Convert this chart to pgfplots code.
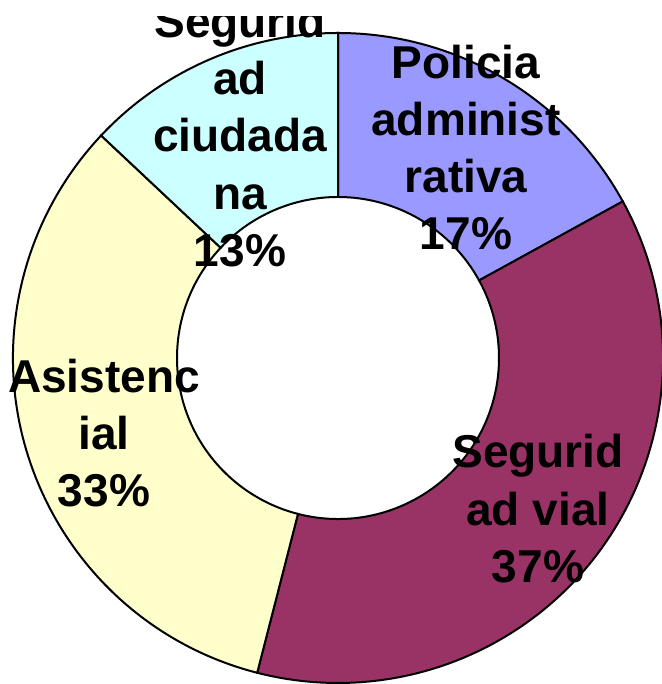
\documentclass[border=0pt]{standalone}
\usepackage{pgfplots}
\usepackage{pgfplotstable}
\pgfplotsset{compat=1.18}
\usepackage{fontspec}
\setmainfont{Liberation Sans}

\definecolor{polic}{HTML}{9999FF}
\definecolor{vial}{HTML}{993366}
\definecolor{asist}{HTML}{FFFFCC}
\definecolor{ciud}{HTML}{CCFFFF}

% shares in percent, clockwise from 12 o'clock
\pgfplotstableread{
value color
17 polic
37 vial
33 asist
13 ciud
}\piedata

\begin{document}
\begin{tikzpicture}[lbl/.style={anchor=base, inner sep=0pt,
    font=\bfseries\fontsize{13.1pt}{15pt}\selectfont}]
\useasboundingbox (0,0) rectangle (6.62cm,6.84cm);
% the chart area cuts the top label off
\clip (0,0) rectangle (6.62cm,6.67cm);
\begin{axis}[
    at={(0,0)}, anchor=south west,
    scale only axis,
    width=6.62cm, height=6.84cm,
    xmin=0, xmax=662, ymin=0, ymax=684,
    axis lines=none,
    clip=false,
]
\pgfplotstablegetrowsof{\piedata}
\pgfmathtruncatemacro\lastrow{\pgfplotsretval-1}
\def\startangle{90}
\pgfplotsforeachungrouped \i in {0,...,\lastrow}{
    \pgfplotstablegetelem{\i}{value}\of\piedata \let\val\pgfplotsretval
    \pgfplotstablegetelem{\i}{color}\of\piedata \let\col\pgfplotsretval
    \pgfmathsetmacro\endangle{\startangle-3.6*\val}
    \edef\temp{\noexpand\filldraw[fill=\col, draw=black, line width=0.02cm]
        (axis cs:{338+325*cos(\startangle)},{326+325*sin(\startangle)})
        arc[start angle=\startangle, end angle=\endangle, radius=3.25cm]
        -- (axis cs:{338+161*cos(\endangle)},{326+161*sin(\endangle)})
        arc[start angle=\endangle, end angle=\startangle, radius=1.61cm]
        -- cycle;}
    \temp
    \let\startangle\endangle
}

% Policia administrativa
\node[lbl] at (axis cs:466,605) {Policia};
\node[lbl] at (axis cs:466,548) {administ};
\node[lbl] at (axis cs:466,491) {rativa};
\node[lbl] at (axis cs:466,434) {17\%};
% Seguridad vial
\node[lbl] at (axis cs:538,216) {Segurid};
\node[lbl] at (axis cs:538,158) {ad vial};
\node[lbl] at (axis cs:538,101) {37\%};
% Asistencial
\node[lbl] at (axis cs:104,291) {Asistenc};
\node[lbl] at (axis cs:104,234) {ial};
\node[lbl] at (axis cs:104,177) {33\%};
% Seguridad ciudadana
\node[lbl] at (axis cs:240,646) {Segurid};
\node[lbl] at (axis cs:240,589) {ad};
\node[lbl] at (axis cs:240,532) {ciudada};
\node[lbl] at (axis cs:240,474) {na};
\node[lbl] at (axis cs:240,417) {13\%};
\end{axis}
\end{tikzpicture}
\end{document}
